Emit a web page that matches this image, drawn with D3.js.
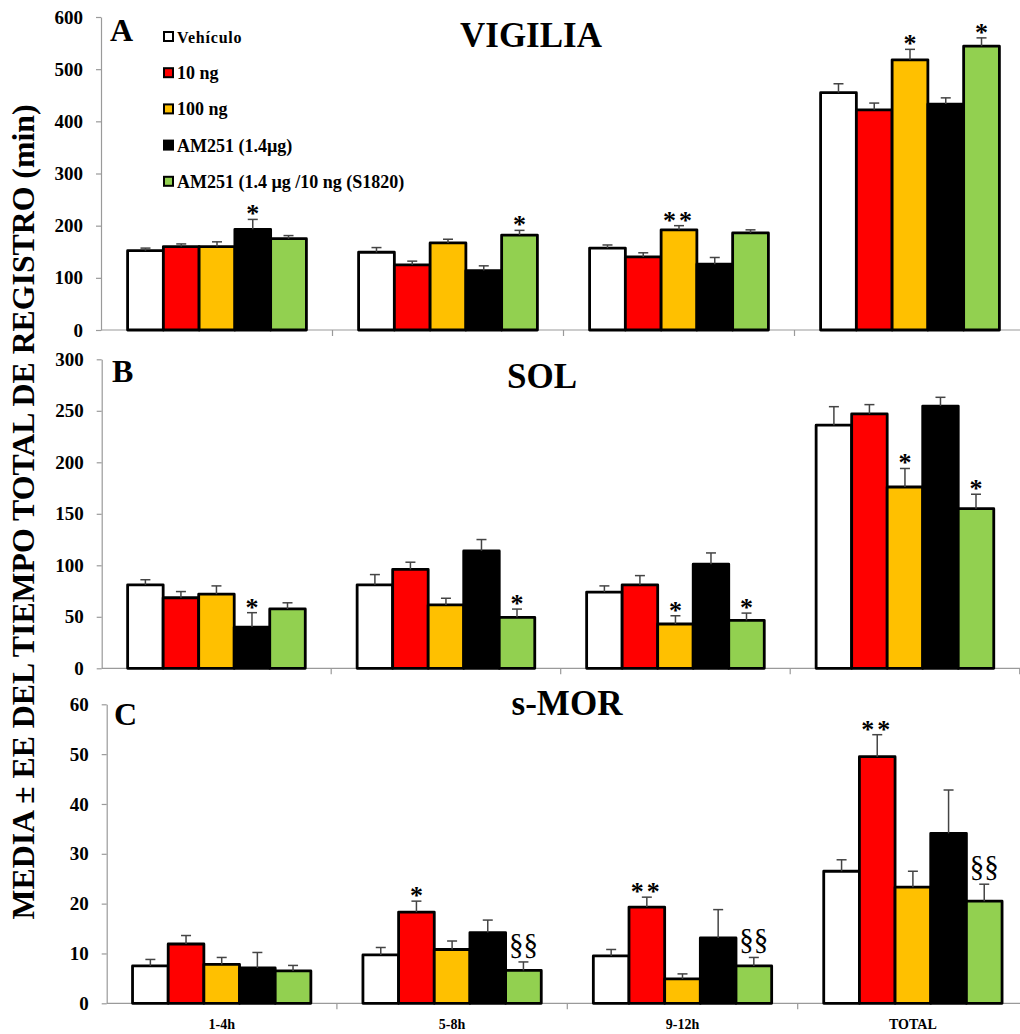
<!DOCTYPE html>
<html>
<head>
<meta charset="utf-8">
<script src="https://cdn.jsdelivr.net/npm/d3@7"></script>
<style>
  html, body { margin: 0; padding: 0; background: #fff; }
  svg { display: block; }
</style>
</head>
<body>
<svg id="chart" width="1020" height="1034"></svg>
<script>
// ---- data -------------------------------------------------------------
const categorias = ["1-4h", "5-8h", "9-12h", "TOTAL"];
const grupos = ["Vehículo", "10 ng", "100 ng", "AM251 (1.4µg)", "AM251 (1.4 µg /10 ng (S1820)"];
const colores = ["#FFFFFF", "#FF0000", "#FFC000", "#000000", "#92D050"];

// VIGILIA: mean and SEM per group (rows) and time block (columns)
const vigiliaMedia = [
  [152, 149, 157, 455],
  [160, 125, 140, 422],
  [160, 167, 192, 518],
  [193, 114, 126, 433],
  [175, 182, 186, 544]
];
const vigiliaEE = [
  [5, 9, 6, 17],
  [5, 7, 8, 13],
  [9, 7, 8, 20],
  [19, 9, 13, 12],
  [6, 9, 6, 16]
];
const vigiliaMarcas = [
  ["", "", "", ""],
  ["", "", "", ""],
  ["", "", "**", "*"],
  ["*", "", "", ""],
  ["", "*", "", "*"]
];
const vigiliaTicks = [0, 100, 200, 300, 400, 500, 600];

// SOL
const solMedia = [
  [81, 81, 74, 236],
  [68.5, 96, 81, 247],
  [72, 61.5, 43, 176],
  [40, 114, 101, 254.6],
  [57.6, 49.5, 46.6, 155]
];
const solEE = [
  [5, 10, 6, 18],
  [6, 7, 9, 9],
  [8, 6.5, 8, 18],
  [14, 11, 11, 8.5],
  [6, 8, 7, 14]
];
const solMarcas = [
  ["", "", "", ""],
  ["", "", "", ""],
  ["", "", "*", "*"],
  ["*", "", "", ""],
  ["", "*", "*", "*"]
];
const solTicks = [0, 50, 100, 150, 200, 250, 300];

// s-MOR
const smorMedia = [
  [7.5, 9.7, 9.5, 26.5],
  [11.9, 18.3, 19.3, 49.5],
  [7.8, 10.8, 4.9, 23.3],
  [7.1, 14.2, 13.1, 34.1],
  [6.5, 6.6, 7.5, 20.5]
];
const smorEE = [
  [1.3, 1.5, 1.3, 2.3],
  [1.7, 2.2, 2.0, 4.4],
  [1.4, 1.7, 1.0, 3.2],
  [3.1, 2.5, 5.7, 8.7],
  [1.1, 1.7, 1.7, 3.4]
];
const smorMarcas = [
  ["", "", "", ""],
  ["", "*", "**", "**"],
  ["", "", "", ""],
  ["", "", "", ""],
  ["", "§§", "§§", "§§"]
];
const smorTicks = [0, 10, 20, 30, 40, 50, 60];

// ---- drawing ----------------------------------------------------------
const svg = d3.select("#chart");
const serif = "'Liberation Serif', 'Times New Roman', Times, serif";
const gris = "#9a9a9a";

const paneles = [
  { letra: "A", titulo: "VIGILIA", media: vigiliaMedia, ee: vigiliaEE, marcas: vigiliaMarcas, ticks: vigiliaTicks,
    top: 17, bottom: 330, eje: 101, inicio: 101.5, paso: 231,
    letraPos: [110, 41], tituloPos: [531, 47] },
  { letra: "B", titulo: "SOL", media: solMedia, ee: solEE, marcas: solMarcas, ticks: solTicks,
    top: 359.3, bottom: 668.3, eje: 101.7, inicio: 101.7, paso: 229.5,
    letraPos: [112, 382], tituloPos: [542, 388] },
  { letra: "C", titulo: "s-MOR", media: smorMedia, ee: smorEE, marcas: smorMarcas, ticks: smorTicks,
    top: 704.3, bottom: 1003.3, eje: 106.7, inicio: 106.5, paso: 230.4,
    letraPos: [114, 725], tituloPos: [567, 715] }
];

function dibujarPanel(p, conEtiquetasX) {
  const yMax = p.ticks[p.ticks.length - 1];
  const y = d3.scaleLinear().domain([0, yMax]).range([p.bottom, p.top]);
  const x0 = d3.scaleBand().domain(categorias)
    .range([p.inicio, p.inicio + categorias.length * p.paso])
    .paddingInner(0.226).paddingOuter(0.113);
  const x1 = d3.scaleBand().domain(d3.range(grupos.length)).range([0, x0.bandwidth()]);

  const g = svg.append("g");

  // value axis
  const ejeY = g.append("g")
    .attr("transform", `translate(${p.eje},0)`)
    .call(d3.axisLeft(y).tickValues(p.ticks).tickSize(5).tickSizeOuter(0).tickPadding(13));
  ejeY.select(".domain").attr("stroke", gris).attr("stroke-width", 1.2);
  ejeY.selectAll(".tick line").attr("stroke", gris).attr("stroke-width", 1.2);
  ejeY.selectAll(".tick text")
    .attr("font-family", serif).attr("font-weight", "bold").attr("font-size", 19)
    .attr("fill", "#000");

  // category axis: baseline plus separators between blocks
  g.append("line")
    .attr("x1", p.eje).attr("x2", 1020)
    .attr("y1", y(0)).attr("y2", y(0))
    .attr("stroke", gris).attr("stroke-width", 1.2);
  const limites = d3.range(1, categorias.length + 1).map(i => p.inicio + i * x0.step());
  g.selectAll(".sep").data(limites).join("line")
    .attr("x1", d => d).attr("x2", d => d)
    .attr("y1", y(0)).attr("y2", y(0) + 6)
    .attr("stroke", gris).attr("stroke-width", 1.2);

  // bars
  const filas = [];
  grupos.forEach((_, gi) => categorias.forEach((c, ci) => {
    filas.push({ gi, c, v: p.media[gi][ci], e: p.ee[gi][ci], m: p.marcas[gi][ci] });
  }));

  g.selectAll(".barra").data(filas).join("rect")
    .attr("x", d => x0(d.c) + x1(d.gi))
    .attr("width", x1.bandwidth())
    .attr("y", d => y(d.v))
    .attr("height", d => y(0) - y(d.v))
    .attr("fill", d => colores[d.gi])
    .attr("stroke", "#000").attr("stroke-width", 2.8)
    .attr("stroke-linejoin", "round");

  // upper error bars
  const cx = d => x0(d.c) + x1(d.gi) + x1.bandwidth() / 2;
  const err = g.selectAll(".err").data(filas).join("g").attr("stroke", "#444").attr("stroke-width", 1.5);
  err.append("line")
    .attr("x1", cx).attr("x2", cx)
    .attr("y1", d => y(d.v)).attr("y2", d => y(d.v + d.e));
  err.append("line")
    .attr("x1", d => cx(d) - 5).attr("x2", d => cx(d) + 5)
    .attr("y1", d => y(d.v + d.e)).attr("y2", d => y(d.v + d.e));

  // significance marks
  g.selectAll(".marca").data(filas.filter(d => d.m)).join("text")
    .attr("x", cx)
    .attr("y", d => d.m.startsWith("§") ? y(d.v + d.e) - 8 : y(d.v + d.e) + 3)
    .attr("text-anchor", "middle")
    .attr("font-family", serif)
    .attr("font-weight", d => d.m.startsWith("§") ? "normal" : "bold")
    .attr("font-size", d => d.m.startsWith("§") ? 29 : 26)
    .attr("letter-spacing", d => d.m === "**" ? 3 : 0)
    .attr("fill", "#000")
    .text(d => d.m);

  // panel letter and title
  g.append("text").attr("x", p.letraPos[0]).attr("y", p.letraPos[1])
    .attr("font-family", serif).attr("font-weight", "bold").attr("font-size", 32)
    .text(p.letra);
  g.append("text").attr("x", p.tituloPos[0]).attr("y", p.tituloPos[1])
    .attr("text-anchor", "middle")
    .attr("font-family", serif).attr("font-weight", "bold").attr("font-size", 35)
    .text(p.titulo);

  if (conEtiquetasX) {
    g.selectAll(".cat").data(categorias).join("text")
      .attr("x", d => x0(d) + x0.bandwidth() / 2)
      .attr("y", 1029)
      .attr("text-anchor", "middle")
      .attr("font-family", serif).attr("font-weight", "bold").attr("font-size", 14)
      .text(d => d);
  }
}

paneles.forEach((p, i) => dibujarPanel(p, i === paneles.length - 1));

// legend (panel A)
const leyenda = svg.append("g");
grupos.forEach((nombre, i) => {
  const yy = 37 + i * 36.2;
  leyenda.append("rect")
    .attr("x", 164).attr("y", yy - 5).attr("width", 9).attr("height", 9)
    .attr("fill", colores[i]).attr("stroke", "#000").attr("stroke-width", 2);
  leyenda.append("text")
    .attr("x", 177).attr("y", yy + 6)
    .attr("font-family", serif).attr("font-weight", "bold")
    .attr("font-size", i === 0 ? 16 : 18)
    .attr("letter-spacing", i === 0 ? 0.8 : 0)
    .text(nombre);
});

// shared value-axis title
svg.append("text")
  .attr("transform", "translate(34,512) rotate(-90)")
  .attr("text-anchor", "middle")
  .attr("font-family", serif).attr("font-weight", "bold").attr("font-size", 32)
  .attr("textLength", 815).attr("lengthAdjust", "spacingAndGlyphs")
  .text("MEDIA ± EE DEL TIEMPO TOTAL DE REGISTRO (min)");
</script>
</body>
</html>
